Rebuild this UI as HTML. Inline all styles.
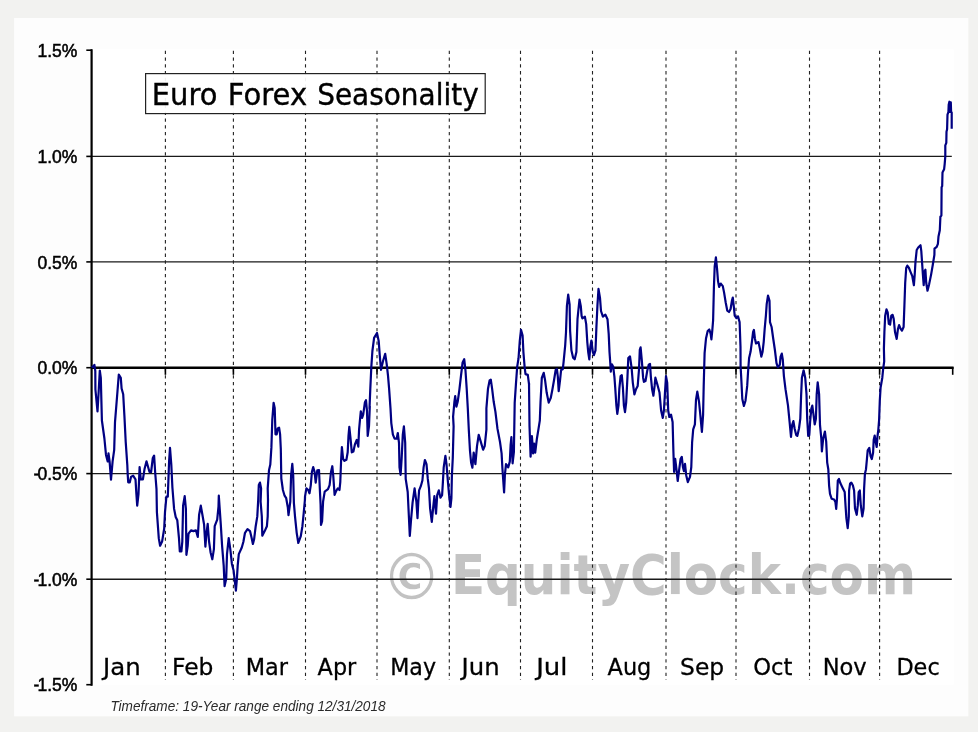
<!DOCTYPE html>
<html lang="en"><head><meta charset="utf-8"><title>Euro Forex Seasonality</title>
<style>
html,body{margin:0;padding:0;background:#f2f2f0;}
body{width:978px;height:732px;overflow:hidden;font-family:"Liberation Sans",sans-serif;}
svg{display:block;}
.ylab{font-family:"Liberation Sans",sans-serif;font-size:17.5px;fill:#000;stroke:#000;stroke-width:.5px;}
.mon{font-family:"DejaVu Sans","Liberation Sans",sans-serif;font-size:23.5px;fill:#000;stroke:#000;stroke-width:.3px;}
.ttl{font-family:"DejaVu Sans","Liberation Sans",sans-serif;font-size:30px;fill:#000;stroke:#000;stroke-width:.4px;}
.foot{font-family:"Liberation Sans",sans-serif;font-style:italic;font-size:14.3px;fill:#2a2a2a;}
.wm{font-family:"DejaVu Sans","Liberation Sans",sans-serif;font-weight:bold;font-size:54.8px;fill:#c4c4c4;}
.wmc{font-family:"DejaVu Sans","Liberation Sans",sans-serif;font-weight:bold;font-size:65.7px;fill:#c2c2c2;stroke:#fff;stroke-width:1.3px;}
</style></head><body>
<svg width="978" height="732" viewBox="0 0 978 732">
<defs><filter id="bl" x="-5%" y="-20%" width="110%" height="140%"><feGaussianBlur stdDeviation="0.75"/></filter></defs>
<rect x="0" y="0" width="978" height="732" fill="#f2f2f0"/>
<rect x="14.1" y="18" width="954.2" height="698.3" fill="#fdfdfd"/>
<rect x="92" y="49.2" width="861.8" height="635.6" fill="#ffffff"/>

<g filter="url(#bl)">
<text class="wmc" x="380.78" y="600.3" textLength="61.75" lengthAdjust="spacingAndGlyphs">©</text>
<text class="wm" x="450.97" y="594.2" textLength="464.98" lengthAdjust="spacingAndGlyphs">EquityClock.com</text>
</g>
<line x1="91.6" y1="156.4" x2="951.8" y2="156.4" stroke="#1a1a1a" stroke-width="1.35"/>
<line x1="91.6" y1="261.9" x2="951.8" y2="261.9" stroke="#1a1a1a" stroke-width="1.35"/>
<line x1="91.6" y1="473.6" x2="951.8" y2="473.6" stroke="#1a1a1a" stroke-width="1.35"/>
<line x1="91.6" y1="579.2" x2="951.8" y2="579.2" stroke="#1a1a1a" stroke-width="1.35"/>
<line x1="165.4" y1="50.8" x2="165.4" y2="680" stroke="#222" stroke-width="1.1" stroke-dasharray="3.3 3.46"/>
<line x1="233.4" y1="50.8" x2="233.4" y2="680" stroke="#222" stroke-width="1.1" stroke-dasharray="3.3 3.46"/>
<line x1="305.5" y1="50.8" x2="305.5" y2="680" stroke="#222" stroke-width="1.1" stroke-dasharray="3.3 3.46"/>
<line x1="377.0" y1="50.8" x2="377.0" y2="680" stroke="#222" stroke-width="1.1" stroke-dasharray="3.3 3.46"/>
<line x1="449.3" y1="50.8" x2="449.3" y2="680" stroke="#222" stroke-width="1.1" stroke-dasharray="3.3 3.46"/>
<line x1="520.5" y1="50.8" x2="520.5" y2="680" stroke="#222" stroke-width="1.1" stroke-dasharray="3.3 3.46"/>
<line x1="592.5" y1="50.8" x2="592.5" y2="680" stroke="#222" stroke-width="1.1" stroke-dasharray="3.3 3.46"/>
<line x1="666.0" y1="50.8" x2="666.0" y2="680" stroke="#222" stroke-width="1.1" stroke-dasharray="3.3 3.46"/>
<line x1="736.0" y1="50.8" x2="736.0" y2="680" stroke="#222" stroke-width="1.1" stroke-dasharray="3.3 3.46"/>
<line x1="809.5" y1="50.8" x2="809.5" y2="680" stroke="#222" stroke-width="1.1" stroke-dasharray="3.3 3.46"/>
<line x1="879.6" y1="50.8" x2="879.6" y2="680" stroke="#222" stroke-width="1.1" stroke-dasharray="3.3 3.46"/>
<line x1="91.6" y1="367.8" x2="953.6" y2="367.8" stroke="#000" stroke-width="2.4"/>
<line x1="165.4" y1="367" x2="165.4" y2="374.8" stroke="#000" stroke-width="1.6"/>
<line x1="233.4" y1="367" x2="233.4" y2="374.8" stroke="#000" stroke-width="1.6"/>
<line x1="305.5" y1="367" x2="305.5" y2="374.8" stroke="#000" stroke-width="1.6"/>
<line x1="377.0" y1="367" x2="377.0" y2="374.8" stroke="#000" stroke-width="1.6"/>
<line x1="449.3" y1="367" x2="449.3" y2="374.8" stroke="#000" stroke-width="1.6"/>
<line x1="520.5" y1="367" x2="520.5" y2="374.8" stroke="#000" stroke-width="1.6"/>
<line x1="592.5" y1="367" x2="592.5" y2="374.8" stroke="#000" stroke-width="1.6"/>
<line x1="666.0" y1="367" x2="666.0" y2="374.8" stroke="#000" stroke-width="1.6"/>
<line x1="736.0" y1="367" x2="736.0" y2="374.8" stroke="#000" stroke-width="1.6"/>
<line x1="809.5" y1="367" x2="809.5" y2="374.8" stroke="#000" stroke-width="1.6"/>
<line x1="879.6" y1="367" x2="879.6" y2="374.8" stroke="#000" stroke-width="1.6"/>
<line x1="952.7" y1="367" x2="952.7" y2="374.8" stroke="#000" stroke-width="1.6"/>
<line x1="91.6" y1="49.2" x2="91.6" y2="685.8" stroke="#000" stroke-width="2.2"/>
<line x1="86.3" y1="50.2" x2="92" y2="50.2" stroke="#000" stroke-width="1.6"/>
<text class="ylab" x="77.3" y="56.9" text-anchor="end">1.5%</text>
<line x1="86.3" y1="156.4" x2="92" y2="156.4" stroke="#000" stroke-width="1.6"/>
<text class="ylab" x="77.3" y="163.1" text-anchor="end">1.0%</text>
<line x1="86.3" y1="261.9" x2="92" y2="261.9" stroke="#000" stroke-width="1.6"/>
<text class="ylab" x="77.3" y="268.6" text-anchor="end">0.5%</text>
<line x1="86.3" y1="367.7" x2="92" y2="367.7" stroke="#000" stroke-width="1.6"/>
<text class="ylab" x="77.3" y="374.4" text-anchor="end">0.0%</text>
<line x1="86.3" y1="473.6" x2="92" y2="473.6" stroke="#000" stroke-width="1.6"/>
<text class="ylab" x="77.3" y="480.3" text-anchor="end"><tspan letter-spacing="-1.8">-</tspan>0.5%</text>
<line x1="86.3" y1="579.2" x2="92" y2="579.2" stroke="#000" stroke-width="1.6"/>
<text class="ylab" x="77.3" y="585.9" text-anchor="end"><tspan letter-spacing="-1.8">-</tspan>1.0%</text>
<line x1="86.3" y1="684.7" x2="92" y2="684.7" stroke="#000" stroke-width="1.6"/>
<text class="ylab" x="77.3" y="691.4" text-anchor="end"><tspan letter-spacing="-1.8">-</tspan>1.5%</text>
<path d="M91.8 367.6 L94.4 364.9 L95.3 371.0 L95.4 389.3 L97.5 411.5 L98.7 391.0 L99.8 370.5 L100.8 377.9 L101.9 420.5 L104.4 438.5 L106.0 454.9 L107.7 461.5 L108.5 453.4 L109.6 461.3 L111.0 479.7 L112.6 461.3 L114.2 449.8 L115.0 422.1 L117.5 391.0 L118.8 374.6 L120.8 377.9 L121.6 388.5 L123.2 394.3 L124.4 415.6 L125.7 441.8 L127.3 464.8 L127.7 474.4 L128.2 482.3 L129.8 482.3 L131.0 476.9 L133.1 475.7 L135.5 479.3 L136.4 494.1 L137.2 505.6 L138.5 494.1 L139.6 467.0 L140.8 479.3 L142.9 479.3 L144.6 468.7 L146.5 461.3 L149.5 472.0 L151.1 472.0 L152.8 458.0 L154.1 455.6 L155.2 472.8 L156.5 489.2 L156.9 512.1 L158.8 538.4 L160.1 545.7 L162.1 541.6 L164.2 528.5 L165.0 512.1 L166.4 496.6 L167.8 496.6 L169.1 461.3 L170.0 447.9 L171.3 464.6 L172.4 487.5 L174.1 508.9 L175.7 517.0 L177.3 520.3 L179.0 538.4 L179.8 551.5 L181.4 551.5 L182.3 541.6 L183.1 505.6 L184.7 496.1 L185.9 508.9 L186.4 554.8 L187.7 545.9 L188.5 533.6 L191.0 530.3 L193.4 531.1 L195.9 530.3 L197.8 536.9 L199.1 514.8 L200.8 505.7 L202.4 514.8 L204.1 524.6 L205.4 546.7 L206.5 532.8 L207.7 523.8 L209.0 541.0 L210.6 552.5 L212.3 559.3 L213.9 549.2 L214.7 526.2 L217.2 519.7 L218.5 506.6 L218.8 495.7 L220.8 524.6 L222.1 545.9 L223.7 565.6 L224.6 586.1 L226.2 578.7 L227.0 554.1 L228.7 538.0 L230.3 549.2 L231.9 563.9 L233.6 570.5 L234.9 582.0 L235.9 590.7 L236.9 578.7 L237.7 565.6 L238.8 554.1 L241.8 547.5 L243.4 541.8 L245.0 532.8 L247.5 529.2 L250.0 531.1 L251.6 537.7 L252.9 543.9 L254.1 539.3 L255.7 526.2 L257.3 516.4 L258.2 500.0 L258.8 485.1 L260.0 482.6 L261.1 488.4 L260.6 501.6 L261.8 516.4 L262.3 535.7 L264.7 531.1 L266.9 526.2 L267.7 516.4 L268.0 500.0 L267.7 488.4 L269.0 470.3 L270.3 464.6 L271.4 447.4 L272.3 419.5 L273.6 402.8 L274.7 408.0 L275.5 434.3 L276.7 434.3 L277.7 428.5 L279.1 427.7 L280.1 434.3 L280.8 449.0 L281.3 478.5 L282.9 490.0 L284.6 495.7 L286.2 498.2 L287.8 507.2 L288.5 515.1 L290.3 501.5 L291.1 475.2 L292.3 463.8 L293.2 475.2 L293.9 503.1 L295.0 516.4 L296.7 532.8 L298.3 543.0 L300.8 536.1 L302.4 526.2 L303.7 513.1 L304.9 500.0 L305.0 496.6 L306.4 488.4 L308.3 490.0 L309.5 493.3 L310.8 485.1 L311.9 472.0 L313.2 467.0 L314.6 472.0 L315.7 482.6 L317.3 470.3 L319.0 470.0 L319.8 488.4 L320.6 504.8 L321.0 524.9 L322.1 521.3 L323.1 501.5 L324.7 491.6 L328.0 489.2 L329.6 485.1 L331.0 472.0 L332.3 466.2 L333.2 475.2 L334.6 494.9 L336.2 490.8 L337.8 488.4 L339.5 490.0 L340.3 481.8 L341.1 460.5 L341.9 447.0 L343.1 458.9 L344.4 460.8 L346.4 459.7 L347.7 452.3 L348.5 435.9 L349.3 426.9 L350.6 439.2 L351.8 452.3 L353.4 451.5 L355.0 444.1 L356.7 440.0 L358.3 446.6 L359.1 429.3 L360.0 419.5 L360.8 411.3 L362.1 417.9 L363.2 414.6 L364.9 402.3 L366.0 400.2 L367.0 411.3 L367.7 435.9 L369.0 426.1 L369.8 406.4 L369.5 408.4 L370.3 388.7 L371.3 367.4 L372.4 351.0 L374.1 337.9 L377.0 333.0 L378.7 341.1 L379.8 355.9 L381.0 369.8 L383.1 360.8 L385.2 353.9 L386.7 364.1 L388.0 375.6 L389.1 388.7 L390.5 408.4 L391.3 423.1 L392.9 434.6 L394.6 438.7 L396.7 438.7 L397.8 433.0 L399.0 442.8 L399.5 467.4 L400.6 474.8 L401.6 459.2 L402.8 434.6 L403.9 426.4 L405.2 442.8 L405.7 478.9 L407.7 492.0 L408.8 514.9 L409.8 535.9 L411.0 520.3 L412.6 502.3 L414.6 488.4 L416.4 501.8 L417.5 518.2 L418.3 501.8 L419.1 490.3 L420.8 486.2 L422.4 480.5 L423.6 467.4 L424.9 460.0 L426.5 464.1 L427.8 478.9 L429.0 488.7 L430.1 508.4 L431.8 521.8 L433.1 508.4 L434.4 496.1 L436.0 513.6 L437.2 495.2 L438.8 490.3 L440.5 497.7 L442.1 495.2 L442.9 482.1 L443.7 467.4 L445.4 455.9 L446.5 464.1 L447.8 480.5 L449.1 495.2 L450.5 507.0 L451.4 498.5 L451.9 475.6 L452.8 457.5 L453.6 426.4 L453.1 416.6 L454.4 401.8 L455.2 396.1 L456.4 406.7 L457.7 401.8 L459.3 390.3 L461.0 375.6 L462.6 362.5 L464.2 359.2 L465.5 370.7 L466.7 388.7 L467.8 408.4 L468.8 429.7 L470.0 451.0 L471.1 462.5 L472.4 467.7 L473.7 452.6 L475.4 464.1 L477.0 446.1 L478.7 434.9 L480.6 441.1 L483.1 449.7 L484.7 446.1 L486.4 429.7 L486.4 408.4 L488.0 388.7 L489.6 380.5 L490.8 379.7 L492.1 388.7 L493.7 401.8 L495.4 411.6 L497.5 428.9 L500.0 442.0 L501.6 453.4 L502.4 468.2 L504.1 492.5 L504.9 474.8 L506.0 464.1 L508.2 467.4 L509.8 461.6 L510.6 445.2 L511.4 437.0 L512.6 463.3 L513.9 451.8 L514.7 402.6 L515.9 384.6 L517.2 366.6 L518.5 358.5 L519.8 340.5 L521.0 329.8 L522.6 335.6 L523.4 352.0 L524.6 366.7 L525.5 374.1 L527.8 374.9 L529.1 384.8 L529.0 383.0 L529.5 425.6 L530.6 456.7 L531.9 436.2 L533.1 453.4 L534.1 443.6 L535.2 452.6 L536.9 438.7 L538.5 428.9 L539.8 420.7 L540.5 402.6 L541.8 378.0 L543.7 372.8 L545.0 379.7 L546.7 392.8 L548.7 402.6 L550.8 397.7 L552.4 389.5 L554.1 379.7 L555.7 369.8 L556.9 369.0 L557.8 376.4 L558.7 391.1 L560.1 379.7 L561.1 370.0 L562.8 369.2 L563.6 361.8 L565.2 345.4 L566.0 332.3 L566.9 306.1 L568.2 294.6 L569.6 304.4 L570.1 330.7 L571.4 350.3 L573.1 357.7 L574.7 359.3 L576.4 352.0 L577.5 319.2 L578.3 311.0 L579.5 299.5 L580.8 306.1 L581.6 315.9 L582.4 318.4 L584.9 316.7 L586.2 324.1 L587.3 342.1 L588.2 352.0 L589.3 359.3 L590.3 347.0 L591.4 340.5 L592.8 352.0 L593.9 355.2 L595.5 350.3 L596.4 327.4 L597.5 304.4 L598.5 288.9 L600.0 297.9 L601.0 311.0 L602.9 316.7 L605.4 314.6 L607.5 319.2 L608.7 333.9 L609.5 352.0 L610.3 363.4 L610.8 371.6 L611.9 364.3 L613.2 366.7 L614.4 376.6 L615.2 387.5 L616.4 405.6 L617.3 413.8 L618.5 405.6 L619.3 389.2 L620.6 376.1 L621.8 375.2 L622.9 387.5 L623.9 405.6 L625.0 412.1 L626.2 402.3 L627.5 376.1 L628.3 358.0 L630.0 356.4 L631.6 367.9 L632.8 382.6 L634.4 394.4 L636.0 389.2 L637.7 385.9 L639.0 369.5 L639.8 349.8 L640.6 347.4 L641.9 361.3 L643.1 377.7 L643.9 381.8 L645.5 381.0 L647.2 371.1 L648.8 364.6 L650.0 363.8 L650.8 376.1 L652.1 389.2 L653.4 395.7 L654.6 385.9 L655.4 377.7 L657.3 384.3 L659.5 392.5 L661.1 410.5 L662.8 417.9 L663.9 410.5 L664.9 394.1 L666.0 376.1 L667.2 382.6 L668.2 410.5 L669.3 417.0 L671.0 414.6 L672.6 422.0 L673.4 451.5 L674.1 472.0 L675.2 458.9 L676.4 468.7 L677.7 481.0 L679.3 468.7 L680.6 458.9 L681.8 456.9 L682.9 467.0 L683.9 471.1 L685.0 463.8 L686.2 475.2 L687.8 482.1 L690.0 476.9 L691.3 467.0 L692.1 442.5 L693.2 429.3 L694.9 424.4 L696.0 399.8 L697.3 391.6 L699.0 401.5 L700.3 414.6 L701.9 431.8 L703.1 414.6 L703.7 385.9 L704.6 353.1 L706.0 338.5 L707.7 331.1 L709.3 329.5 L710.6 333.6 L711.4 339.3 L712.3 330.3 L713.1 320.5 L713.9 287.7 L714.7 266.4 L715.9 257.4 L717.0 268.0 L718.0 281.1 L719.1 286.9 L720.8 283.6 L722.8 286.1 L724.1 292.6 L725.7 302.5 L727.3 310.7 L729.0 312.0 L730.6 309.0 L731.9 300.8 L732.8 297.5 L733.9 307.4 L734.7 315.6 L736.4 318.0 L738.0 316.4 L739.6 322.1 L740.5 346.7 L740.6 366.2 L741.4 381.0 L742.3 399.0 L743.9 405.9 L745.5 400.7 L747.2 385.9 L748.0 372.8 L749.1 358.0 L750.6 351.6 L751.9 341.8 L753.1 332.0 L753.9 330.0 L754.9 338.5 L756.0 343.4 L758.5 342.1 L759.8 348.4 L761.3 356.6 L762.6 351.6 L763.7 341.8 L764.7 328.7 L765.9 315.6 L766.7 304.1 L768.0 295.6 L769.5 300.8 L770.0 322.1 L771.6 327.0 L773.2 338.5 L774.9 350.0 L776.5 363.1 L777.8 367.2 L779.8 364.8 L780.6 356.6 L781.8 353.6 L782.8 359.8 L783.9 376.1 L785.5 389.2 L788.0 405.6 L789.6 422.0 L791.0 437.0 L792.1 425.2 L793.4 421.1 L794.6 428.5 L796.2 435.1 L797.3 435.9 L799.0 428.5 L800.3 418.7 L801.1 395.7 L801.9 377.7 L803.6 370.3 L805.2 377.7 L806.5 394.1 L807.2 418.7 L808.2 435.9 L809.3 435.1 L810.1 422.0 L811.3 408.9 L812.3 405.6 L813.4 413.8 L814.7 424.4 L815.9 418.7 L816.7 394.1 L817.7 382.3 L819.1 394.1 L820.0 425.2 L821.3 438.4 L821.9 451.5 L823.2 438.4 L824.9 431.5 L826.2 441.6 L827.2 462.6 L828.3 469.2 L829.1 485.6 L830.0 493.8 L831.6 498.7 L834.1 499.5 L835.4 502.0 L836.2 508.9 L837.0 498.7 L837.8 480.7 L839.0 479.0 L840.3 483.1 L842.3 487.2 L844.7 492.1 L845.5 505.2 L846.4 518.4 L847.7 528.2 L848.8 516.7 L849.1 490.5 L850.1 483.6 L851.3 482.6 L852.9 485.6 L854.1 490.5 L855.0 508.5 L856.7 514.8 L857.8 505.2 L858.7 492.1 L859.8 490.5 L860.8 505.2 L862.3 516.4 L863.6 508.5 L864.1 488.9 L864.9 474.1 L866.0 469.2 L866.9 459.3 L867.7 450.3 L869.3 447.9 L870.6 456.1 L871.8 459.0 L873.1 452.8 L873.7 439.7 L874.7 435.6 L875.9 443.0 L876.7 447.0 L877.5 436.4 L878.3 429.8 L879.1 420.0 L879.8 400.7 L880.6 387.5 L882.3 377.7 L883.1 369.5 L884.2 361.3 L883.9 348.4 L884.4 332.0 L885.2 315.6 L886.5 309.3 L887.7 312.3 L888.8 323.8 L890.1 324.6 L891.3 315.6 L892.6 314.8 L893.7 318.9 L895.0 332.0 L896.7 338.9 L898.0 328.7 L899.1 325.1 L900.5 328.7 L901.9 330.7 L903.6 327.0 L904.4 305.7 L905.2 282.8 L906.2 268.0 L907.3 265.6 L909.0 268.0 L910.6 272.1 L912.3 276.2 L913.9 285.2 L914.7 274.6 L915.5 261.5 L916.7 250.0 L918.2 247.5 L920.5 245.2 L921.3 251.2 L922.9 274.6 L923.7 285.2 L924.6 271.3 L925.4 269.7 L926.2 282.8 L927.5 290.7 L929.1 284.4 L931.1 274.6 L932.8 264.8 L934.4 254.9 L934.5 248.7 L936.7 246.8 L937.9 243.8 L938.5 236.4 L939.8 230.2 L940.4 216.7 L941.4 215.5 L941.6 187.2 L942.2 186.0 L942.5 172.5 L944.1 169.3 L944.7 163.8 L945.3 156.4 L945.3 145.3 L946.3 142.9 L946.5 131.8 L947.1 129.3 L947.5 114.6 L948.4 112.1 L948.7 104.8 L949.4 101.7 L950.0 112.0 L950.8 102.3 L951.1 112.0 L951.7 112.4 L951.7 128.7" fill="none" stroke="#000082" stroke-width="2.2" stroke-linejoin="round" stroke-linecap="butt"/>
<rect x="145.6" y="73.6" width="339.6" height="40" fill="#fff" fill-opacity="0.93" stroke="#222" stroke-width="1.2"/>
<text class="ttl" y="105.3"><tspan x="151.78" textLength="65.61" lengthAdjust="spacingAndGlyphs">Euro</tspan> <tspan x="227.76" textLength="79.34" lengthAdjust="spacingAndGlyphs">Forex</tspan> <tspan x="317.21" textLength="161.46" lengthAdjust="spacingAndGlyphs">Seasonality</tspan></text>
<text class="mon" x="103.01" y="675.2" textLength="37.69" lengthAdjust="spacingAndGlyphs">Jan</text>
<text class="mon" x="171.99" y="675.2" textLength="41.39" lengthAdjust="spacingAndGlyphs">Feb</text>
<text class="mon" x="245.70" y="675.2" textLength="42.25" lengthAdjust="spacingAndGlyphs">Mar</text>
<text class="mon" x="317.62" y="675.2" textLength="38.61" lengthAdjust="spacingAndGlyphs">Apr</text>
<text class="mon" x="390.18" y="675.2" textLength="45.86" lengthAdjust="spacingAndGlyphs">May</text>
<text class="mon" x="461.61" y="675.2" textLength="38.00" lengthAdjust="spacingAndGlyphs">Jun</text>
<text class="mon" x="536.15" y="675.2" textLength="31.33" lengthAdjust="spacingAndGlyphs">Jul</text>
<text class="mon" x="607.62" y="675.2" textLength="43.73" lengthAdjust="spacingAndGlyphs">Aug</text>
<text class="mon" x="680.08" y="675.2" textLength="44.12" lengthAdjust="spacingAndGlyphs">Sep</text>
<text class="mon" x="753.20" y="675.2" textLength="39.16" lengthAdjust="spacingAndGlyphs">Oct</text>
<text class="mon" x="822.66" y="675.2" textLength="44.08" lengthAdjust="spacingAndGlyphs">Nov</text>
<text class="mon" x="896.38" y="675.2" textLength="43.32" lengthAdjust="spacingAndGlyphs">Dec</text>
<text class="foot" x="110.39" y="710.5" textLength="275.21" lengthAdjust="spacingAndGlyphs">Timeframe: 19-Year range ending 12/31/2018</text>
</svg></body></html>
